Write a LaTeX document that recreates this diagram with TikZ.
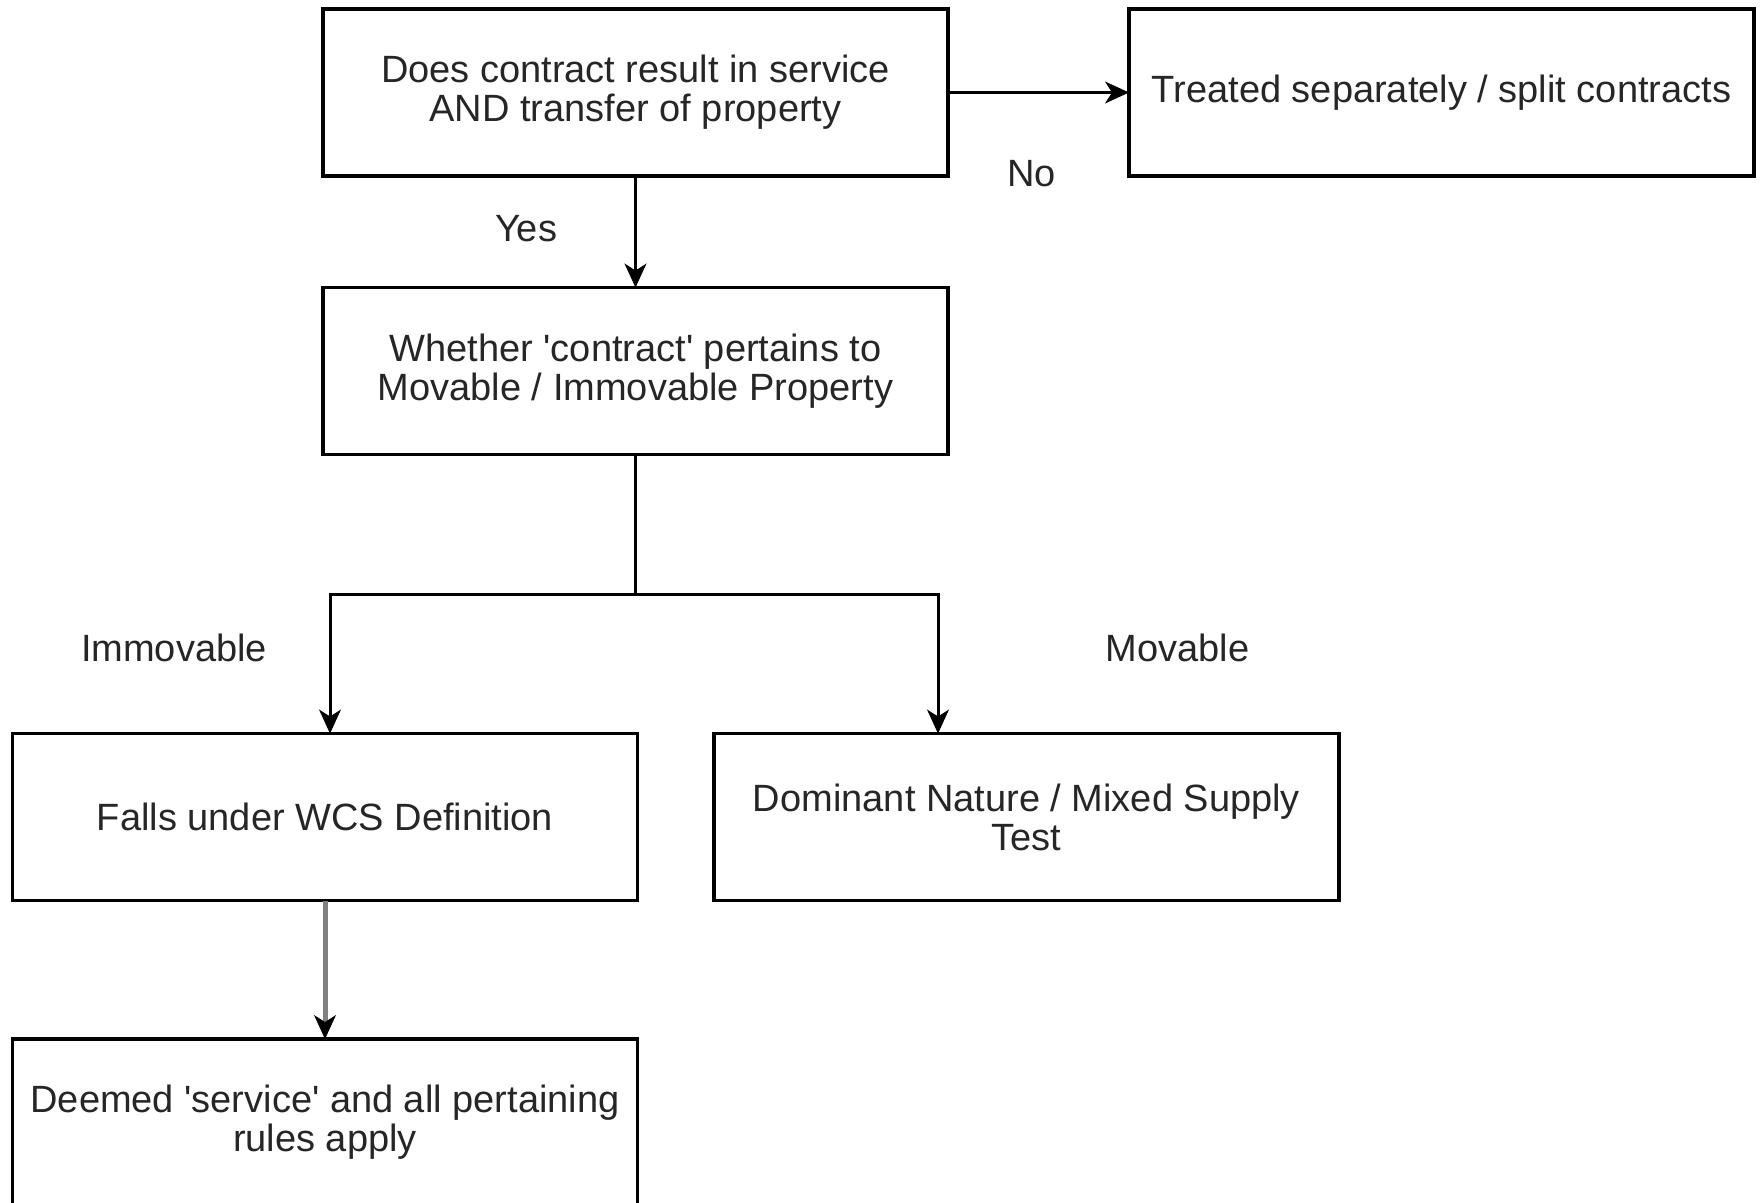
\documentclass[tikz,border=0pt]{standalone}
\usepackage{fontspec}
\setmainfont{Liberation Sans}
\usetikzlibrary{arrows.meta}
\definecolor{txt}{RGB}{38,38,38}
\definecolor{grayline}{RGB}{128,128,128}
\newcommand{\sq}{\textquotesingle}
\tikzset{
  box/.style={draw=black, line width=3.5pt, minimum width=625pt, minimum height=167pt,
    inner sep=0pt, outer sep=0pt, align=center, text=txt,
    font=\fontsize{38}{39}\selectfont},
  lbl/.style={text=txt, inner sep=0pt, font=\fontsize{38}{39}\selectfont},
  tipstyle/.style={-{Stealth[length=24pt,width=22pt,inset=7pt,color=black,fill=black,line width=1pt]}},
  arr/.style={draw=black, line width=3pt, tipstyle},
  grayarr/.style={draw=grayline, line width=5pt, tipstyle},
  conn/.style={draw=black, line width=3pt}
}
\begin{document}
\begin{tikzpicture}[x=1pt,y=-1pt]
\useasboundingbox[fill=white] (0,0) rectangle (1760,1202);
\node[box] (b1) at (635.5,92.5) {Does contract result in service\\AND transfer of property};
\node[box] (b2) at (1441.5,92.5) {Treated separately / split contracts};
\node[box] (b3) at (635.5,371) {Whether \sq contract\sq{} pertains to\\Movable / Immovable Property};
\node[box] (b4) at (325,817) {Falls under WCS Definition};
\node[box] (b5) at (1026.5,817) {Dominant Nature / Mixed Supply\\Test};
\node[box] (b6) at (325,1122.5) {Deemed \sq service\sq{} and all pertaining\\rules apply};

\coordinate (jn) at (635.5,594);

\draw[arr] (b1.east) -- (b2.west);
\draw[arr] (b1.south) -- (b3.north);
\draw[conn] (b3.south) -- (jn);
\draw[arr] (jn) -| ([xshift=5pt]b4.north);
\draw[arr] (jn) -| ([xshift=-88.5pt]b5.north);
\draw[grayarr] (b4.south) -- (b6.north);

\node[lbl] (yes) at (526,229) {Yes};
\node[lbl] (no) at (1031.5,174) {No};
\node[lbl] (imm) at (174,648) {Immovable};
\node[lbl] (mov) at (1177.5,648) {Movable};
\end{tikzpicture}
\end{document}
